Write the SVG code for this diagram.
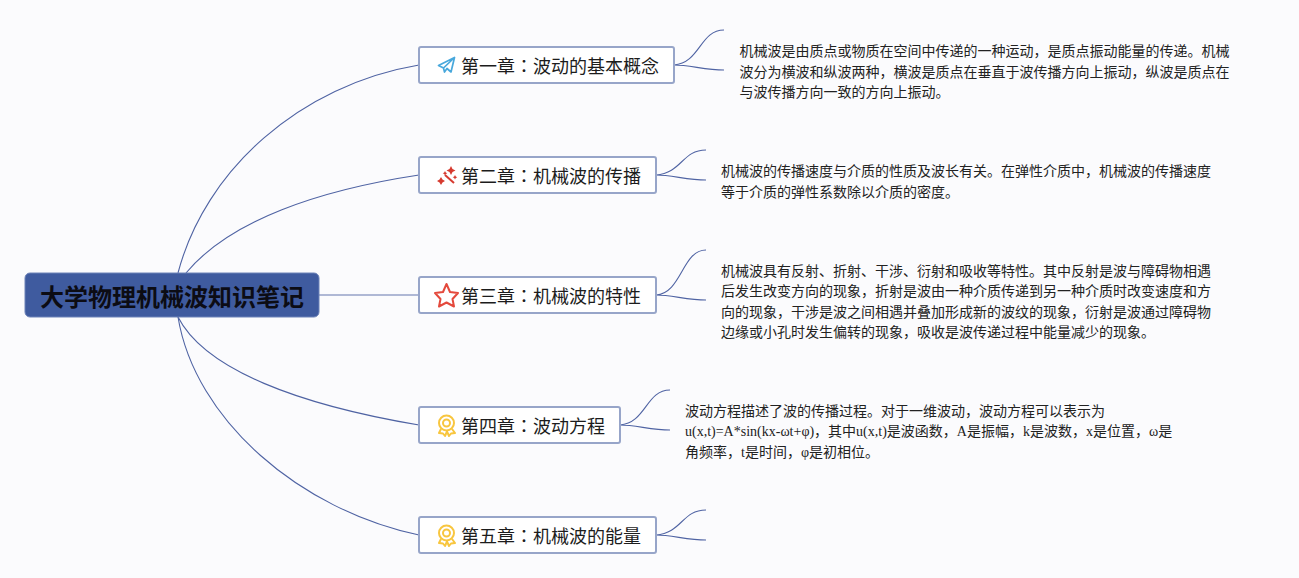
<svg xmlns="http://www.w3.org/2000/svg" width="1299" height="578" viewBox="0 0 1299 578">
<style>
text{font-family:"Liberation Serif","Noto Sans CJK SC",serif;fill:#222}
.t{font-size:14px}
.h{font-family:"Noto Sans CJK SC",sans-serif;font-size:18px;fill:#1c1c1c}
.k{font-family:"Noto Sans CJK TC",sans-serif}
.box{fill:#fff;stroke:#97a5c9;stroke-width:2}
.c{fill:none;stroke:#4f63a3;stroke-width:1.100}
.m{fill:none;stroke:#f8c63f;stroke-width:2;stroke-linejoin:round}
</style>
<rect width="1299" height="578" fill="#fbfbfd"/>
<g id="connectors">
<path class="c" d="M178 273C205 170 300 85 419 65"/>
<path class="c" d="M186 273C230 220 320 190 419 175"/>
<path class="c" d="M319 295H419" style="stroke:#6476ae"/>
<path class="c" d="M178 317C205 370 300 405 419 425"/>
<path class="c" d="M178 317C195 420 300 510 419 535"/>
<path class="c" d="M674 65C700 63 700 30 724 30M674 65C690 65 705 70 724 70"/>
<path class="c" d="M656 175C682 173 682 150 706 150M656 175C672 175 687 180 706 180"/>
<path class="c" d="M656 295C682 293 682 250 706 250M656 295C672 295 687 300 706 300"/>
<path class="c" d="M620 425C646 423 646 390 670 390M620 425C636 425 651 430 670 430"/>
<path class="c" d="M656 535C682 533 682 510 706 510M656 535C672 535 687 540 706 540"/>
</g>
<g id="root">
<rect x="25" y="273" width="294" height="44" rx="5" fill="#3f5b9f" stroke="#6d83b8"/>
<text x="40" y="306" font-size="24" font-weight="700" style="font-family:'Noto Sans CJK SC',sans-serif;fill:#0c0c14">大学物理机械波知识笔记</text>
</g>
<g id="node1">
<rect class="box" x="419" y="47" width="255" height="36" rx="2"/>
<path d="M438.500 65.500L454.500 57.500L451 72L447 68.500L444.500 72L443.500 68ZM443.500 68L454.500 57.500" fill="none" stroke="#48a8dc" stroke-width="1.700" stroke-linejoin="round"/>
<text class="h" x="461" y="72.500">第一章<tspan class="k">：</tspan>波动的基本概念</text>
</g>
<g id="text1">
<text class="t" x="739.500" y="56">机械波是由质点或物质在空间中传递的一种运动，是质点振动能量的传递。机械</text>
<text class="t" x="739.500" y="77">波分为横波和纵波两种，横波是质点在垂直于波传播方向上振动，纵波是质点在</text>
<text class="t" x="739.500" y="97">与波传播方向一致的方向上振动。</text>
</g>
<g id="node2">
<rect class="box" x="419" y="157" width="237" height="36" rx="2"/>
<path d="M445 175L454 183" stroke="#d63a2f" stroke-width="2" fill="none"/>
<path d="M451 166l1.500 3 3 1.500-3 1.500-1.500 3-1.500-3-3-1.500 3-1.500zM441 177l1.500 2.500 2.500 1.500-2.500 1.500-1.500 2.500-1.500-2.500-2.500-1.500 2.500-1.500zM445 171l.8 1.500 1.500.8-1.500.8-.8 1.500-.8-1.500-1.500-.8 1.500-.8zM455 175l.8 1.500 1.500.8-1.500.8-.8 1.500-.8-1.500-1.500-.8 1.500-.8z" fill="#d63a2f"/>
<text class="h" x="461" y="182.500">第二章<tspan class="k">：</tspan>机械波的传播</text>
</g>
<g id="text2">
<text class="t" x="721" y="176">机械波的传播速度与介质的性质及波长有关。在弹性介质中，机械波的传播速度</text>
<text class="t" x="721" y="197">等于介质的弹性系数除以介质的密度。</text>
</g>
<g id="node3">
<rect class="box" x="419" y="277" width="237" height="36" rx="2"/>
<path d="M446.500 284L450 292L458 293L452.500 299L454 306.500L446.500 302.500L439 306.500L440.500 299L435 293L443 292Z" fill="none" stroke="#e4493c" stroke-width="2" stroke-linejoin="round"/>
<text class="h" x="461" y="302.500">第三章<tspan class="k">：</tspan>机械波的特性</text>
</g>
<g id="text3">
<text class="t" x="721" y="276">机械波具有反射、折射、干涉、衍射和吸收等特性。其中反射是波与障碍物相遇</text>
<text class="t" x="721" y="296">后发生改变方向的现象，折射是波由一种介质传递到另一种介质时改变速度和方</text>
<text class="t" x="721" y="317">向的现象，干涉是波之间相遇并叠加形成新的波纹的现象，衍射是波通过障碍物</text>
<text class="t" x="721" y="337">边缘或小孔时发生偏转的现象，吸收是波传递过程中能量减少的现象。</text>
</g>
<g id="node4">
<rect class="box" x="419" y="407" width="201" height="36" rx="2"/>
<circle class="m" cx="446.500" cy="423" r="7.500"/><circle class="m" cx="446.500" cy="423" r="3.500"/>
<path class="m" d="M441 429L439 433L443 433.500L445 436L447 431.500L449 436L451 433.500L455 433L452 429"/>
<text class="h" x="461" y="432.500">第四章<tspan class="k">：</tspan>波动方程</text>
</g>
<g id="text4">
<text class="t" x="685" y="416">波动方程描述了波的传播过程。对于一维波动，波动方程可以表示为</text>
<text class="t" x="685" y="436">u(x,t)=A*sin(kx-ωt+φ)，其中u(x,t)是波函数，A是振幅，k是波数，x是位置，ω是</text>
<text class="t" x="685" y="457">角频率，t是时间，φ是初相位。</text>
</g>
<g id="node5">
<rect class="box" x="419" y="517" width="237" height="36" rx="2"/>
<circle class="m" cx="446.500" cy="533" r="7.500"/><circle class="m" cx="446.500" cy="533" r="3.500"/>
<path class="m" d="M441 539L439 543L443 543.500L445 546L447 541.500L449 546L451 543.500L455 543L452 539"/>
<text class="h" x="461" y="542.500">第五章<tspan class="k">：</tspan>机械波的能量</text>
</g>
</svg>
